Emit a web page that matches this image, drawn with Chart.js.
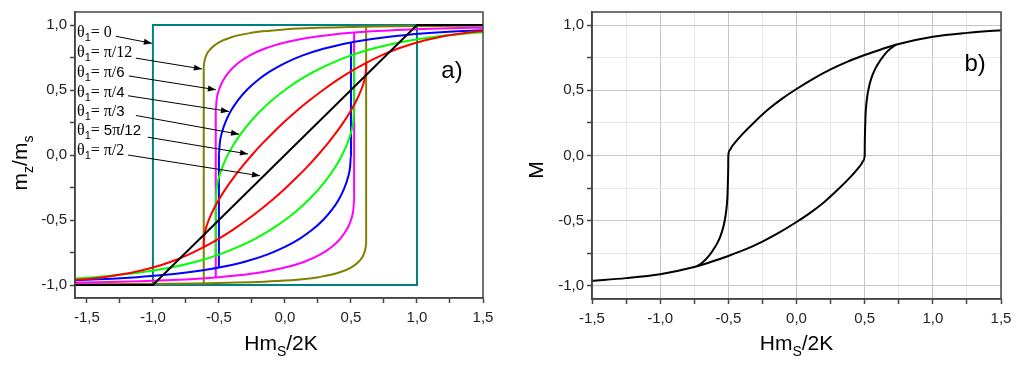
<!DOCTYPE html>
<html><head><meta charset="utf-8">
<script src="https://cdn.jsdelivr.net/npm/chart.js@4.4.0/dist/chart.umd.min.js"></script>
<style>
html,body{margin:0;padding:0;background:#fff;width:1024px;height:366px;overflow:hidden}
#ca{position:absolute;left:0;top:0}
#cb{position:absolute;left:520px;top:0}
</style></head><body>
<canvas id="ca" width="520" height="366"></canvas>
<canvas id="cb" width="504" height="366"></canvas>
<script>
// ---------- tick values ----------
const xTicksA = [-1.5,-1.25,-1,-0.75,-0.5,-0.25,0,0.25,0.5,0.75,1,1.25,1.5];
const xTicksB = [-1.5,-1.25,-1,-0.75,-0.5,-0.25,0,0.25,0.5,0.75,1,1.25,1.5];
const yTicks  = [-1,-0.75,-0.5,-0.25,0,0.25,0.5,0.75,1];

// ---------- panel a) : theta1 = 0 ----------
const h0Up = [1.6, -1.0, -1.0];
const m0Up = [1.0, 1.0, -1.0];
const h0Lo = [-1.6, 1.0, 1.0];
const m0Lo = [-1.0, -1.0, 1.0];
// theta1 = pi/12
const h15Up = [1.606,1.478,1.131,0.869,0.665,0.5,0.365,0.251,0.155,0,-0.169,-0.254,-0.405,-0.5,-0.56,-0.596,-0.612,-0.615,-0.615];
const m15Up = [0.995,0.9945,0.9925,0.9903,0.9877,0.9848,0.9816,0.9781,0.9744,0.9659,0.9511,0.9397,0.9063,0.866,0.8192,0.766,0.7071,0.675,-0.987];
const h15Lo = [-1.606,-1.478,-1.131,-0.869,-0.665,-0.5,-0.365,-0.251,-0.155,0,0.169,0.254,0.405,0.5,0.56,0.596,0.612,0.615,0.615];
const m15Lo = [-0.995,-0.9945,-0.9925,-0.9903,-0.9877,-0.9848,-0.9816,-0.9781,-0.9744,-0.9659,-0.9511,-0.9397,-0.9063,-0.866,-0.8192,-0.766,-0.7071,-0.675,0.987];
// theta1 = pi/6
const h30Up = [1.613,1.414,1.095,0.852,0.658,0.5,0.368,0.256,0.115,0,-0.151,-0.266,-0.354,-0.42,-0.468,-0.5,-0.518,-0.524,-0.524];
const m30Up = [0.9816,0.9781,0.9703,0.9613,0.9511,0.9397,0.9272,0.9135,0.891,0.866,0.8192,0.766,0.7071,0.6428,0.5736,0.5,0.4226,0.342,-0.941];
const h30Lo = [-1.613,-1.414,-1.095,-0.852,-0.658,-0.5,-0.368,-0.256,-0.115,0,0.151,0.266,0.354,0.42,0.468,0.5,0.518,0.524,0.524];
const m30Lo = [-0.9816,-0.9781,-0.9703,-0.9613,-0.9511,-0.9397,-0.9272,-0.9135,-0.891,-0.866,-0.8192,-0.766,-0.7071,-0.6428,-0.5736,-0.5,-0.4226,-0.342,0.941];
// theta1 = pi/4
const h45Up = [1.604,1.309,1.12,0.924,0.761,0.621,0.5,0.298,0.135,0,-0.113,-0.209,-0.289,-0.355,-0.408,-0.448,-0.477,-0.494,-0.5,-0.5];
const m45Up = [0.9636,0.9511,0.9397,0.9239,0.9063,0.887,0.866,0.8192,0.766,0.7071,0.6428,0.5736,0.5,0.4226,0.342,0.2588,0.1736,0.0872,0,-0.866];
const h45Lo = [-1.604,-1.309,-1.12,-0.924,-0.761,-0.621,-0.5,-0.298,-0.135,0,0.113,0.209,0.289,0.355,0.408,0.448,0.477,0.494,0.5,0.5];
const m45Lo = [-0.9636,-0.9511,-0.9397,-0.9239,-0.9063,-0.887,-0.866,-0.8192,-0.766,-0.7071,-0.6428,-0.5736,-0.5,-0.4226,-0.342,-0.2588,-0.1736,-0.0872,0,0.866];
// theta1 = pi/3
const h60Up = [1.609,1.44,1.112,0.866,0.668,0.5,0.354,0.223,0.106,0,-0.096,-0.182,-0.259,-0.326,-0.385,-0.433,-0.472,-0.5,-0.518,-0.524,-0.524];
const m60Up = [0.9511,0.9397,0.9063,0.866,0.8192,0.766,0.7071,0.6428,0.5736,0.5,0.4226,0.342,0.2588,0.1736,0.0872,0,-0.0872,-0.1736,-0.2588,-0.342,-0.774];
const h60Lo = [-1.609,-1.44,-1.112,-0.866,-0.668,-0.5,-0.354,-0.223,-0.106,0,0.096,0.182,0.259,0.326,0.385,0.433,0.472,0.5,0.518,0.524,0.524];
const m60Lo = [-0.9511,-0.9397,-0.9063,-0.866,-0.8192,-0.766,-0.7071,-0.6428,-0.5736,-0.5,-0.4226,-0.342,-0.2588,-0.1736,-0.0872,0,0.0872,0.1736,0.2588,0.342,0.774];
// theta1 = 5pi/12
const h75Up = [1.602,1.478,1.374,1.165,1.0,0.858,0.731,0.612,0.5,0.392,0.289,0.189,0.092,0,-0.088,-0.172,-0.25,-0.323,-0.389,-0.448,-0.5,-0.543,-0.577,-0.601,-0.613,-0.615,-0.615];
const m75Up = [0.9613,0.9511,0.9397,0.9063,0.866,0.8192,0.766,0.7071,0.6428,0.5736,0.5,0.4226,0.342,0.2588,0.1736,0.0872,0,-0.0872,-0.1736,-0.2588,-0.342,-0.4226,-0.5,-0.5736,-0.6428,-0.675,-0.708];
const h75Lo = [-1.602,-1.478,-1.374,-1.165,-1.0,-0.858,-0.731,-0.612,-0.5,-0.392,-0.289,-0.189,-0.092,0,0.088,0.172,0.25,0.323,0.389,0.448,0.5,0.543,0.577,0.601,0.613,0.615,0.615];
const m75Lo = [-0.9613,-0.9511,-0.9397,-0.9063,-0.866,-0.8192,-0.766,-0.7071,-0.6428,-0.5736,-0.5,-0.4226,-0.342,-0.2588,-0.1736,-0.0872,0,0.0872,0.1736,0.2588,0.342,0.4226,0.5,0.5736,0.6428,0.675,0.708];
// theta1 = pi/2
const h90 = [-1.6, -1.0, 1.0, 1.6];
const m90 = [-1.0, -1.0, 1.0, 1.0];

// ---------- panel b) ----------
const hbUp = [1.5,1.25,1.0,0.75,0.625,0.5,0.375,0.25,0.125,0,-0.1,-0.2,-0.3,-0.4,-0.45,-0.475,-0.49,-0.5,-0.501,-0.503,-0.506,-0.511,-0.52,-0.535,-0.555,-0.58,-0.615,-0.655,-0.69,-0.73];
const mbUp = [0.96,0.94,0.91,0.855,0.815,0.77,0.72,0.66,0.59,0.51,0.44,0.36,0.265,0.16,0.1,0.067,0.04,0,-0.1,-0.2,-0.3,-0.38,-0.46,-0.54,-0.61,-0.67,-0.73,-0.785,-0.82,-0.85];
const hbLo = [-1.5,-1.25,-1.0,-0.75,-0.625,-0.5,-0.375,-0.25,-0.125,0,0.1,0.2,0.3,0.4,0.45,0.475,0.49,0.5,0.501,0.503,0.506,0.511,0.52,0.535,0.555,0.58,0.615,0.655,0.69,0.73];
const mbLo = [-0.96,-0.94,-0.91,-0.855,-0.815,-0.77,-0.72,-0.66,-0.59,-0.51,-0.44,-0.36,-0.265,-0.16,-0.1,-0.067,-0.04,0,0.1,0.2,0.3,0.38,0.46,0.54,0.61,0.67,0.73,0.785,0.82,0.85];

// ---------- annotations of panel a) (data units) ----------
const labelY   = [0.905, 0.753, 0.601, 0.449, 0.297, 0.152, 0.0];
const arrowX1  = [-1.28, -1.129, -1.182, -1.189, -1.129, -1.038, -1.189];
const arrowY1  = [0.913, 0.745, 0.608, 0.456, 0.304, 0.137, 0.0];
const arrowX2  = [-1.008, -0.629, -0.523, -0.424, -0.348, -0.280, -0.189];
const arrowY2  = [0.859, 0.662, 0.502, 0.335, 0.160, 0.008, -0.160];

const SERIF = "'Liberation Serif','Times New Roman',serif";
const SANS = "'Liberation Sans',Arial,sans-serif";
const labelParts = [
  [['= 0', 'serif']],
  [['= \u03C0/12', 'serif']],
  [['= \u03C0/', 'serif'], ['6', 'sans']],
  [['= \u03C0/', 'serif'], ['4', 'sans']],
  [['= \u03C0/', 'serif'], ['3', 'sans']],
  [['= ', 'serif'], ['5', 'sans'], ['\u03C0', 'serif'], ['/12', 'sans']],
  [['= \u03C0/2', 'serif']]
];

function pts(hs, ms) { return hs.map((h, i) => ({x: h, y: ms[i]})); }
function isMajor(v) { return Math.abs(v * 2 - Math.round(v * 2)) < 1e-6; }
function fmt(v) { return isMajor(v) ? (Math.abs(v) < 1e-9 ? '0,0' : v.toFixed(1).replace('.', ',')) : ''; }

function drawRich(ctx, parts, x, y, align) {
  let w = 0;
  parts.forEach(p => { ctx.font = p[1]; w += ctx.measureText(p[0]).width; });
  let cx = align === 'center' ? x - w / 2 : x;
  ctx.textAlign = 'left'; ctx.textBaseline = 'alphabetic';
  parts.forEach(p => { ctx.font = p[1]; ctx.fillText(p[0], cx, y + (p[2] || 0)); cx += ctx.measureText(p[0]).width; });
}

function arrow(ctx, x1, y1, x2, y2) {
  ctx.beginPath(); ctx.moveTo(x1, y1); ctx.lineTo(x2, y2); ctx.stroke();
  const a = Math.atan2(y2 - y1, x2 - x1), L = 8, W = 3;
  ctx.beginPath();
  ctx.moveTo(x2, y2);
  ctx.lineTo(x2 - L * Math.cos(a) + W * Math.sin(a), y2 - L * Math.sin(a) - W * Math.cos(a));
  ctx.lineTo(x2 - L * Math.cos(a) - W * Math.sin(a), y2 - L * Math.sin(a) + W * Math.cos(a));
  ctx.closePath(); ctx.fill();
}

const xTitle = [['Hm', '21px ' + SANS], ['S', '14px ' + SANS, 6], ['/2K', '21px ' + SANS]];

const boxPlugin = {
  id: 'box',
  afterDatasetsDraw(chart) {
    const {ctx, chartArea: a} = chart;
    ctx.save();
    ctx.strokeStyle = '#444'; ctx.lineWidth = 1.5;
    ctx.strokeRect(a.left, a.top, a.right - a.left, a.bottom - a.top);
    ctx.restore();
  }
};

function scaleCfg(min, max, vals, isX, fitSize, gridOn) {
  return {
    type: 'linear', min: min, max: max,
    afterBuildTicks: s => { s.ticks = vals.map(v => ({value: v})); },
    afterFit: s => { if (isX) s.height = fitSize; else s.width = fitSize; },
    ticks: { autoSkip: false, maxRotation: 0, minRotation: 0, font: {family: SANS, size: 15}, color: '#222',
             padding: isX ? 6 : 3, callback: v => fmt(v) },
    grid: {
      drawOnChartArea: gridOn, drawTicks: true, tickLength: 5,
      color: c => (c.tick && isMajor(c.tick.value)) ? '#c6c6c6' : '#e6e6e6',
      lineWidth: 1, tickColor: '#444', tickWidth: 1.5
    },
    border: { display: true, color: '#444', width: 1.5 }
  };
}

function lineDs(data, color, smooth) {
  return { data: data, showLine: true, borderColor: color, backgroundColor: color, borderWidth: 2,
           pointRadius: 0, pointHoverRadius: 0, fill: false,
           cubicInterpolationMode: smooth ? 'monotone' : 'default', tension: 0 };
}

// ---------- chart a ----------
const annotA = {
  id: 'annotA',
  afterDraw(chart) {
    const {ctx, chartArea: a, scales: {x, y}} = chart;
    ctx.save();
    ctx.fillStyle = '#000';
    drawRich(ctx, xTitle, (a.left + a.right) / 2 + 2, a.bottom + 52, 'center');
    ctx.save(); ctx.translate(27, 163); ctx.rotate(-Math.PI / 2);
    drawRich(ctx, [['m', '21px ' + SANS], ['z', '14px ' + SANS, 6], ['/m', '21px ' + SANS], ['s', '14px ' + SANS, 6]], 0, 0, 'center');
    ctx.restore();
    ctx.font = '24px ' + SANS; ctx.textAlign = 'center'; ctx.textBaseline = 'middle';
    ctx.fillText('a)', x.getPixelForValue(1.265), y.getPixelForValue(0.646));
    const lx = x.getPixelForValue(-1.575);
    labelY.forEach((v, i) => {
      const parts = [['\u03B8', '16px ' + SERIF], ['1', '11px ' + SANS, 4]];
      labelParts[i].forEach(p => parts.push([p[0], p[1] === 'serif' ? '16px ' + SERIF : '15px ' + SANS]));
      drawRich(ctx, parts, lx, y.getPixelForValue(v), 'left');
    });
    ctx.strokeStyle = '#000'; ctx.lineWidth = 1;
    arrowX1.forEach((v, i) => {
      arrow(ctx, x.getPixelForValue(v), y.getPixelForValue(arrowY1[i]), x.getPixelForValue(arrowX2[i]), y.getPixelForValue(arrowY2[i]));
    });
    ctx.restore();
  }
};

new Chart(document.getElementById('ca'), {
  type: 'scatter',
  data: { datasets: [
    lineDs(pts(h90, m90), '#000000', false),
    lineDs(pts(h75Up, m75Up), '#ff0000', true),
    lineDs(pts(h75Lo, m75Lo), '#ff0000', true),
    lineDs(pts(h60Up, m60Up), '#00ff00', true),
    lineDs(pts(h60Lo, m60Lo), '#00ff00', true),
    lineDs(pts(h45Up, m45Up), '#0000ff', true),
    lineDs(pts(h45Lo, m45Lo), '#0000ff', true),
    lineDs(pts(h30Up, m30Up), '#ff00ff', true),
    lineDs(pts(h30Lo, m30Lo), '#ff00ff', true),
    lineDs(pts(h15Up, m15Up), '#808000', true),
    lineDs(pts(h15Lo, m15Lo), '#808000', true),
    lineDs(pts(h0Up, m0Up), '#008080', false),
    lineDs(pts(h0Lo, m0Lo), '#008080', false)
  ]},
  options: {
    responsive: false, animation: false, devicePixelRatio: 1,
    layout: { padding: { top: 10, right: 37, left: 0, bottom: 0 } },
    plugins: { legend: { display: false }, tooltip: { enabled: false } },
    scales: {
      x: scaleCfg(-1.59, 1.5, xTicksA, true, 68, false),
      y: scaleCfg(-1.1, 1.1, yTicks, false, 75, false)
    }
  },
  plugins: [boxPlugin, annotA]
});

// ---------- chart b ----------
const annotB = {
  id: 'annotB',
  afterDraw(chart) {
    const {ctx, chartArea: a, scales: {x, y}} = chart;
    ctx.save();
    ctx.fillStyle = '#000';
    drawRich(ctx, xTitle, (a.left + a.right) / 2, a.bottom + 51, 'center');
    ctx.save(); ctx.translate(23, 170); ctx.rotate(-Math.PI / 2);
    drawRich(ctx, [['M', '21px ' + SANS]], 0, 0, 'center');
    ctx.restore();
    ctx.font = '24px ' + SANS; ctx.textAlign = 'center'; ctx.textBaseline = 'middle';
    ctx.fillText('b)', x.getPixelForValue(1.31), y.getPixelForValue(0.695));
    ctx.restore();
  }
};

new Chart(document.getElementById('cb'), {
  type: 'scatter',
  data: { datasets: [
    lineDs(pts(hbUp, mbUp), '#000000', true),
    lineDs(pts(hbLo, mbLo), '#000000', true)
  ]},
  options: {
    responsive: false, animation: false, devicePixelRatio: 1,
    layout: { padding: { top: 10, right: 23, left: 0, bottom: 0 } },
    plugins: { legend: { display: false }, tooltip: { enabled: false } },
    scales: {
      x: scaleCfg(-1.5, 1.5, xTicksB, true, 67, true),
      y: scaleCfg(-1.1, 1.1, yTicks, false, 72, true)
    }
  },
  plugins: [boxPlugin, annotB]
});
</script>
</body></html>
